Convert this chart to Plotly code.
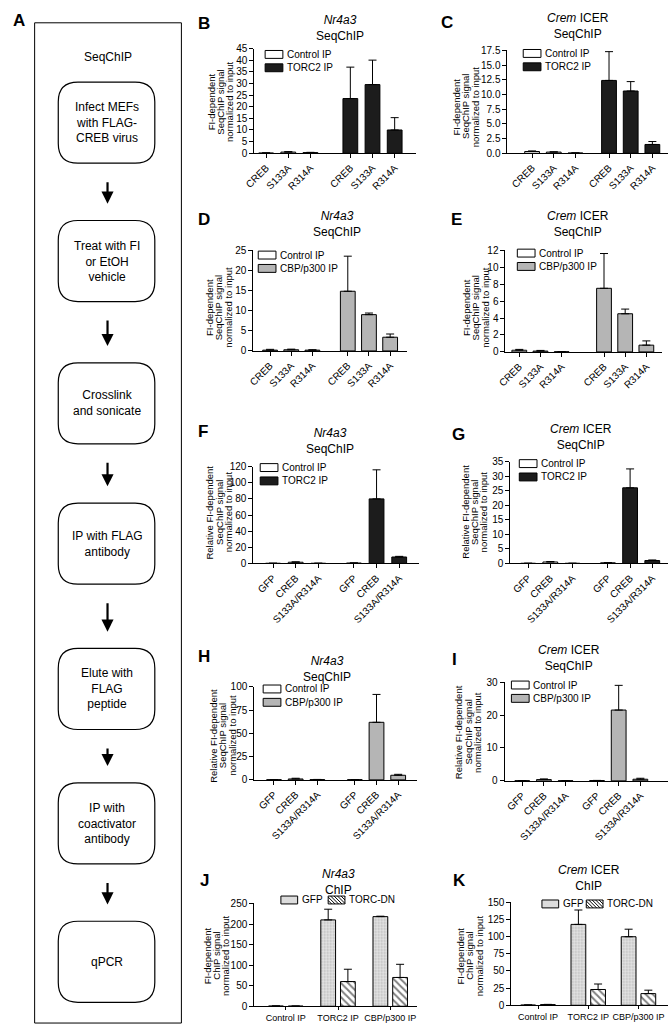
import plotly.graph_objects as go

W, H = 670, 1033
FONT = "Liberation Sans, Arial, Helvetica, sans-serif"

# ---------------- data ----------------
mut_labels = ["CREB", "S133A", "R314A"]
dm_labels = ["GFP", "CREB", "S133A/R314A"]
chip_labels = ["Control IP", "TORC2 IP", "CBP/p300 IP"]

# B  Nr4a3 SeqChIP (TORC2)
b_ctrl = [0.1, 0.5, 0.3]
b_ctrl_err = [0.1, 0.2, 0.1]
b_ip = [23.5, 29.5, 10.0]
b_ip_err = [13.5, 10.5, 5.3]
# C  Crem ICER SeqChIP (TORC2)
c_ctrl = [0.3, 0.2, 0.05]
c_ctrl_err = [0.1, 0.05, 0.02]
c_ip = [12.4, 10.6, 1.5]
c_ip_err = [4.9, 1.6, 0.5]
# D  Nr4a3 SeqChIP (CBP/p300)
d_ctrl = [0.2, 0.3, 0.2]
d_ctrl_err = [0.2, 0.15, 0.1]
d_ip = [14.8, 9.0, 3.4]
d_ip_err = [8.7, 0.4, 0.8]
# E  Crem ICER SeqChIP (CBP/p300)
e_ctrl = [0.2, 0.1, 0.02]
e_ctrl_err = [0.1, 0.08, 0.02]
e_ip = [7.5, 4.5, 0.8]
e_ip_err = [4.1, 0.55, 0.5]
# F  Nr4a3 SeqChIP (TORC2), relative
f_ctrl = [0.2, 1.5, 0.2]
f_ctrl_err = [0.1, 0.5, 0.1]
f_ip = [0.5, 80.0, 8.0]
f_ip_err = [0.2, 36.0, 0.8]
# G  Crem ICER SeqChIP (TORC2), relative
g_ctrl = [0.05, 0.5, 0.05]
g_ctrl_err = [0.02, 0.15, 0.02]
g_ip = [0.2, 26.0, 1.0]
g_ip_err = [0.1, 6.5, 0.2]
# H  Nr4a3 SeqChIP (CBP/p300), relative
h_ctrl = [0.2, 1.0, 0.3]
h_ctrl_err = [0.1, 0.8, 0.2]
h_ip = [0.2, 62.0, 5.0]
h_ip_err = [0.1, 30.0, 1.0]
# I  Crem ICER SeqChIP (CBP/p300), relative
i_ctrl = [0.05, 0.4, 0.05]
i_ctrl_err = [0.02, 0.2, 0.02]
i_ip = [0.1, 21.5, 0.5]
i_ip_err = [0.05, 7.5, 0.3]
# J  Nr4a3 ChIP
j_gfp = [0.5, 210.0, 218.0]
j_gfp_err = [0.3, 26.0, 1.0]
j_dn = [0.3, 60.0, 70.0]
j_dn_err = [0.2, 30.0, 32.0]
# K  Crem ICER ChIP
k_gfp = [0.3, 118.0, 100.0]
k_gfp_err = [0.2, 21.0, 11.0]
k_dn = [1.0, 23.0, 17.0]
k_dn_err = [0.3, 8.0, 5.0]

flow_steps = [
    "Infect MEFs<br>with FLAG-<br>CREB virus",
    "Treat with FI<br>or EtOH<br>vehicle",
    "Crosslink<br>and sonicate",
    "IP with FLAG<br>antibody",
    "Elute with<br>FLAG<br>peptide",
    "IP with<br>coactivator<br>antibody",
    "qPCR",
]

# ---------------- styling ----------------
CTRL_FILL = "white"
TORC_FILL = "#1c1c1c"
CBP_FILL = "#b5b5b5"
GFP_FILL = "#dcdcdc"

YT_SEQ = ["FI-dependent", "SeqChIP signal", "normalized to input"]
YT_REL = ["Relative FI-dependent", "SeqChIP signal", "normalized to input"]
YT_CHIP = ["FI-dependent", "ChIP signal", "normalized to input"]
T_NR = "<i>Nr4a3</i><br>SeqChIP"
T_CR = "<i>Crem</i> ICER<br>SeqChIP"


def PX(px):
    return px / W


def PY(py):
    return 1 - py / H


# panel layout (pixel geometry): left, right, top, bottom of plot area
mut_panels = [
    dict(L="B", rect=(248, 412, 43, 149), p0=260, u=22.5, g=3.8, ymax=45, dtick=5, fmt="",
         ctrl=b_ctrl, ctrl_err=b_ctrl_err, ip=b_ip, ip_err=b_ip_err, ipname="TORC2 IP", fill=TORC_FILL,
         labels=mut_labels, title=T_NR, tpos=(335, 22), ytitle=YT_SEQ, ytpos=(214, 97),
         lpos=(197, 18), leg=(279, 49)),
    dict(L="C", rect=(505, 668, 45, 149), p0=530, u=22, g=3.55, ymax=17.5, dtick=2.5, fmt=".1f",
         ctrl=c_ctrl, ctrl_err=c_ctrl_err, ip=c_ip, ip_err=c_ip_err, ipname="TORC2 IP", fill=TORC_FILL,
         labels=mut_labels, title=T_CR, tpos=(577, 20), ytitle=YT_SEQ, ytpos=(463, 102),
         lpos=(444, 17), leg=(541, 48)),
    dict(L="D", rect=(247, 403, 247, 349), p0=264, u=21.5, g=3.67, ymax=25, dtick=5, fmt="",
         ctrl=d_ctrl, ctrl_err=d_ctrl_err, ip=d_ip, ip_err=d_ip_err, ipname="CBP/p300 IP", fill=CBP_FILL,
         labels=mut_labels, title=T_NR, tpos=(332, 221), ytitle=YT_SEQ, ytpos=(212, 305),
         lpos=(197, 216), leg=(272, 252)),
    dict(L="E", rect=(503, 662, 247, 350), p0=517, u=21.5, g=4.0, ymax=12, dtick=2, fmt="",
         ctrl=e_ctrl, ctrl_err=e_ctrl_err, ip=e_ip, ip_err=e_ip_err, ipname="CBP/p300 IP", fill=CBP_FILL,
         labels=mut_labels, title=T_CR, tpos=(577, 221), ytitle=YT_SEQ, ytpos=(473, 305),
         lpos=(453, 216), leg=(535, 250)),
    dict(L="F", rect=(247, 415, 466, 564), p0=267, u=23, g=3.57, ymax=120, dtick=20, fmt="",
         ctrl=f_ctrl, ctrl_err=f_ctrl_err, ip=f_ip, ip_err=f_ip_err, ipname="TORC2 IP", fill=TORC_FILL,
         labels=dm_labels, title=T_NR, tpos=(325, 440), ytitle=YT_REL, ytpos=(212, 512),
         lpos=(196, 430), leg=(274, 467)),
    dict(L="G", rect=(508, 668, 461, 564), p0=526, u=22.5, g=3.6, ymax=35, dtick=5, fmt="",
         ctrl=g_ctrl, ctrl_err=g_ctrl_err, ip=g_ip, ip_err=g_ip_err, ipname="TORC2 IP", fill=TORC_FILL,
         labels=dm_labels, title=T_CR, tpos=(580, 436), ytitle=YT_REL, ytpos=(471, 512),
         lpos=(455, 434), leg=(537, 463)),
    dict(L="H", rect=(248, 413, 689, 783), p0=268, u=22, g=3.73, ymax=100, dtick=25, fmt="",
         ctrl=h_ctrl, ctrl_err=h_ctrl_err, ip=h_ip, ip_err=h_ip_err, ipname="CBP/p300 IP", fill=CBP_FILL,
         labels=dm_labels, title=T_NR, tpos=(322, 671), ytitle=YT_REL, ytpos=(216, 738),
         lpos=(197, 658), leg=(277, 691)),
    dict(L="I", rect=(502, 668, 684, 784), p0=520, u=22, g=3.45, ymax=30, dtick=10, fmt="",
         ctrl=i_ctrl, ctrl_err=i_ctrl_err, ip=i_ip, ip_err=i_ip_err, ipname="CBP/p300 IP", fill=CBP_FILL,
         labels=dm_labels, title=T_CR, tpos=(567, 660), ytitle=YT_REL, ytpos=(465, 735),
         lpos=(451, 661), leg=(529, 687)),
]

chip_panels = [
    dict(L="J", rect=(248, 413, 908, 1012), p0=280, u=53, ymax=250, dtick=50,
         gfp=j_gfp, gfp_err=j_gfp_err, dn=j_dn, dn_err=j_dn_err,
         title="<i>Nr4a3</i><br>ChIP", tpos=(333, 886), ytitle=YT_CHIP, ytpos=(210, 961),
         lpos=(197, 885), leg=[(294, 904.5), (342, 904.5)]),
    dict(L="K", rect=(509, 668, 907, 1011), p0=536, u=51, ymax=150, dtick=25,
         gfp=k_gfp, gfp_err=k_gfp_err, dn=k_dn, dn_err=k_dn_err,
         title="<i>Crem</i> ICER<br>ChIP", tpos=(588, 882), ytitle=YT_CHIP, ytpos=(467, 961),
         lpos=(456, 885), leg=[(559, 908.5), (604, 908.5)]),
]

fig = go.Figure()
layout = dict(
    width=W, height=H, margin=dict(l=0, r=0, t=0, b=0),
    paper_bgcolor="white", plot_bgcolor="white",
    font=dict(family=FONT, size=10, color="black"),
    barmode="overlay", showlegend=False,
)
annotations = []
shapes = []


def err(arr):
    return dict(type="data", array=arr, arrayminus=[0] * len(arr), symmetric=False,
                color="black", thickness=1, width=4)


def axis_pair(n, rect, xrange, ymax, dtick, fmt):
    L, R, T, B = rect
    xk = "xaxis" if n == 1 else f"xaxis{n}"
    yk = "yaxis" if n == 1 else f"yaxis{n}"
    xr = "x" if n == 1 else f"x{n}"
    yr = "y" if n == 1 else f"y{n}"
    layout[xk] = dict(domain=[PX(L), PX(R)], anchor=yr, range=xrange,
                      showline=True, linecolor="black", linewidth=1, mirror=False,
                      ticks="outside", ticklen=4, tickwidth=1, tickcolor="black",
                      showgrid=False, zeroline=False, tickfont=dict(size=10))
    layout[yk] = dict(domain=[PY(B), PY(T)], anchor=xr, range=[0, ymax],
                      tick0=0, dtick=dtick, tickformat=fmt,
                      showline=True, linecolor="black", linewidth=1,
                      ticks="outside", ticklen=4, tickwidth=1, tickcolor="black",
                      showgrid=False, zeroline=False, tickfont=dict(size=10))
    return xk, yk, xr, yr


def text(t, x, y, size, xanchor="center", angle=0):
    annotations.append(dict(text=t, x=PX(x), y=PY(y), xref="paper", yref="paper",
                            showarrow=False, xanchor=xanchor, yanchor="middle",
                            textangle=angle, font=dict(size=size)))


def add_common_text(p):
    text(f"<b>{p['L']}</b>", p["lpos"][0], p["lpos"][1], 17)
    text(p["title"], p["tpos"][0], p["tpos"][1], 12)
    cx, cy = p["ytpos"]
    for k, line in enumerate(p["ytitle"]):
        text(line, cx + (k - 1) * 9.5, cy, 9.5, angle=-90)


def swatch(x0, yc, kind, w=18, h=8):
    x1 = x0 + w
    y0, y1 = yc - h / 2, yc + h / 2
    fill = {"ctrl": CTRL_FILL, "torc": TORC_FILL, "cbp": CBP_FILL, "gfp": GFP_FILL, "dn": "white"}[kind]
    shapes.append(dict(type="rect", xref="paper", yref="paper", x0=PX(x0), x1=PX(x1),
                       y0=PY(y1), y1=PY(y0), fillcolor=fill, line=dict(color="black", width=1)))
    if kind == "dn":
        c = x0 - h
        while c < x1:
            sx, sy = c, y0
            ex, ey = c + h, y1
            if sx < x0:
                sy = y0 + (x0 - sx)
                sx = x0
            if ex > x1:
                ey = y0 + (x1 - c)
                ex = x1
            if ex > sx:
                shapes.append(dict(type="line", xref="paper", yref="paper",
                                   x0=PX(sx), y0=PY(sy), x1=PX(ex), y1=PY(ey),
                                   line=dict(color="black", width=1)))
            c += 3.5


n = 0
for p in mut_panels:
    n += 1
    L, R, T, B = p["rect"]
    u, p0, g = p["u"], p["p0"], p["g"]
    xrange = [(L - p0) / u, (R - p0) / u]
    x_ctrl = [0, 1, 2]
    x_ip = [g, g + 1, g + 2]
    xk, yk, xr, yr = axis_pair(n, p["rect"], xrange, p["ymax"], p["dtick"], p["fmt"])
    layout[xk].update(tickvals=x_ctrl + x_ip, ticktext=p["labels"] * 2, tickangle=-45)
    w = 15 / u
    fig.add_trace(go.Bar(x=x_ctrl, y=p["ctrl"], error_y=err(p["ctrl_err"]), width=w, offset=-w / 2,
                         name="Control IP", xaxis=xr, yaxis=yr,
                         marker=dict(color=CTRL_FILL, line=dict(color="black", width=1))))
    fig.add_trace(go.Bar(x=x_ip, y=p["ip"], error_y=err(p["ip_err"]), width=w, offset=-w / 2,
                         name=p["ipname"], xaxis=xr, yaxis=yr,
                         marker=dict(color=p["fill"], line=dict(color="black", width=1))))
    # legend
    tx, ty = p["leg"]
    kind = "torc" if p["fill"] == TORC_FILL else "cbp"
    swatch(tx - 20, ty, "ctrl")
    text("Control IP", tx, ty, 10, xanchor="left")
    swatch(tx - 20, ty + 13.5, kind)
    text(p["ipname"], tx, ty + 13.5, 10, xanchor="left")
    add_common_text(p)

for p in chip_panels:
    n += 1
    L, R, T, B = p["rect"]
    u, p0 = p["u"], p["p0"]
    xrange = [(L - p0) / u, (R - p0) / u]
    xg = [0, 1, 2]
    xk, yk, xr, yr = axis_pair(n, p["rect"], xrange, p["ymax"], p["dtick"], "")
    layout[xk].update(tickvals=xg, ticktext=chip_labels, tickangle=0, ticklen=3,
                      tickfont=dict(size=9))
    w = 15 / u
    d = 10 / u
    fig.add_trace(go.Bar(x=xg, y=p["gfp"], error_y=err(p["gfp_err"]), width=w, offset=-d - w / 2,
                         name="GFP", xaxis=xr, yaxis=yr,
                         marker=dict(color=GFP_FILL, line=dict(color="black", width=1),
                                     pattern=dict(shape=".", bgcolor="#e4e4e4", fgcolor="#8a8a8a",
                                                  size=3, solidity=0.35))))
    fig.add_trace(go.Bar(x=xg, y=p["dn"], error_y=err(p["dn_err"]), width=w, offset=d - w / 2,
                         name="TORC-DN", xaxis=xr, yaxis=yr,
                         marker=dict(color="white", line=dict(color="black", width=1),
                                     pattern=dict(shape="\\", bgcolor="white", fgcolor="black",
                                                  size=5, solidity=0.4))))
    (gx, gy), (dx, dy) = p["leg"]
    swatch(gx - 19, gy, "gfp", w=17)
    text("GFP", gx, gy, 10, xanchor="left")
    swatch(dx - 19, dy, "dn", w=17)
    text("TORC-DN", dx, dy, 10, xanchor="left")
    add_common_text(p)

# ---------------- panel A: flow chart ----------------
text("<b>A</b>", 9, 15, 17)
shapes.append(dict(type="rect", xref="paper", yref="paper", x0=PX(25), x1=PX(174),
                   y0=PY(1029), y1=PY(17), line=dict(color="black", width=1)))
text("SeqChIP", 99, 52, 12)

box_tops = [77, 217, 361, 503, 650, 786, 926]
BOX_H, BX0, BX1, RAD = 82, 49, 147, 20


def rounded(x0, y0, x1, y1, r):
    pts = [
        ("M", [(x0 + r, y0)]), ("L", [(x1 - r, y0)]), ("Q", [(x1, y0), (x1, y0 + r)]),
        ("L", [(x1, y1 - r)]), ("Q", [(x1, y1), (x1 - r, y1)]), ("L", [(x0 + r, y1)]),
        ("Q", [(x0, y1), (x0, y1 - r)]), ("L", [(x0, y0 + r)]), ("Q", [(x0, y0), (x0 + r, y0)]),
    ]
    s = ""
    for cmd, cs in pts:
        s += cmd + " ".join(f"{PX(a):.5f},{PY(b):.5f}" for a, b in cs) + " "
    return s + "Z"


for i, (top, txt) in enumerate(zip(box_tops, flow_steps)):
    bot = top + BOX_H
    shapes.append(dict(type="path", xref="paper", yref="paper",
                       path=rounded(BX0, top, BX1, bot, RAD), line=dict(color="black", width=1.2)))
    text(txt, (BX0 + BX1) / 2, (top + bot) / 2, 12)
    if i + 1 < len(box_tops):
        tail = bot + 18
        tip = box_tops[i + 1] - 17
        annotations.append(dict(text="", x=PX(99), y=PY(tip), xref="paper", yref="paper",
                                ax=0, ay=-(tip - tail), axref="pixel", ayref="pixel",
                                showarrow=True, arrowhead=2, arrowsize=1.1, arrowwidth=2.2,
                                arrowcolor="black"))

layout["annotations"] = annotations
layout["shapes"] = shapes
fig.update_layout(**layout)
fig.write_html(
    "out.html",
    config={"displayModeBar": False, "staticPlot": True},
    post_script="document.body.style.margin='0';document.body.style.overflow='hidden';",
)
